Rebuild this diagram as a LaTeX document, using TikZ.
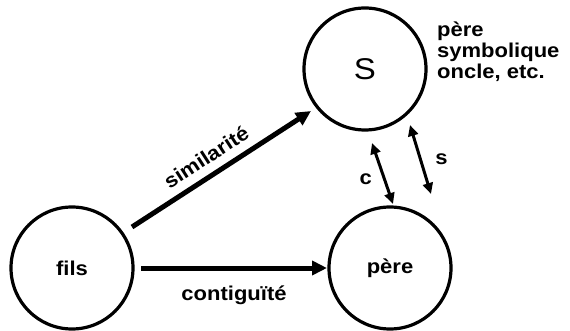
\documentclass[tikz,border=0pt]{standalone}
\usepackage{fontspec}
\setmainfont{Liberation Sans}
\newfontfamily\labfont[FakeStretch=1.1]{Liberation Sans}
\usetikzlibrary{arrows.meta}
\begin{document}
\begin{tikzpicture}[x=1pt,y=-1pt,
  circ/.style={circle,draw,line width=3.2pt,minimum size=122pt,inner sep=0pt},
  lab/.style={font=\labfont\fontsize{20}{21}\selectfont\bfseries},
  big/.style={-{Triangle[length=15pt,width=14pt]},line width=5pt},
  dbl/.style={{Triangle[length=11pt,width=10pt]}-{Triangle[length=11pt,width=10pt]},line width=3pt}]
\useasboundingbox (0,0) rectangle (570,331);
\node[circ] (S) at (365,69) {};
\node[circ] (fils) at (72,268) {};
\node[circ] (pere) at (390,268) {};
\node[font=\labfont\fontsize{30}{30}\selectfont] (Slab) at (S) {S};
\node[lab] (filslab) at (fils) {fils};
\node[lab] (perelab) at (pere) {père};
\node[lab,anchor=west,align=left,inner sep=1pt] (note) at (436,52) {père\\symbolique\\oncle, etc.};
\coordinate (a1) at (132,227);
\coordinate (a2) at (311,111);
\draw[big] (a1) -- node[lab,above=5pt,sloped,pos=0.47] (sim) {similarité} (a2);
\coordinate (b1) at (141,268);
\coordinate (b2) at (327,268);
\draw[big] (b1) -- node[lab,below=12pt] (cont) {contiguïté} (b2);
\coordinate (c1) at (372,143);
\coordinate (c2) at (393,204);
\draw[dbl] (c1) -- node[lab,left=8pt,pos=0.6] (clab) {c} (c2);
\coordinate (s1) at (410,125);
\coordinate (s2) at (431,194);
\draw[dbl] (s1) -- node[lab,right=10pt,pos=0.5] (slab) {s} (s2);
\end{tikzpicture}
\end{document}
